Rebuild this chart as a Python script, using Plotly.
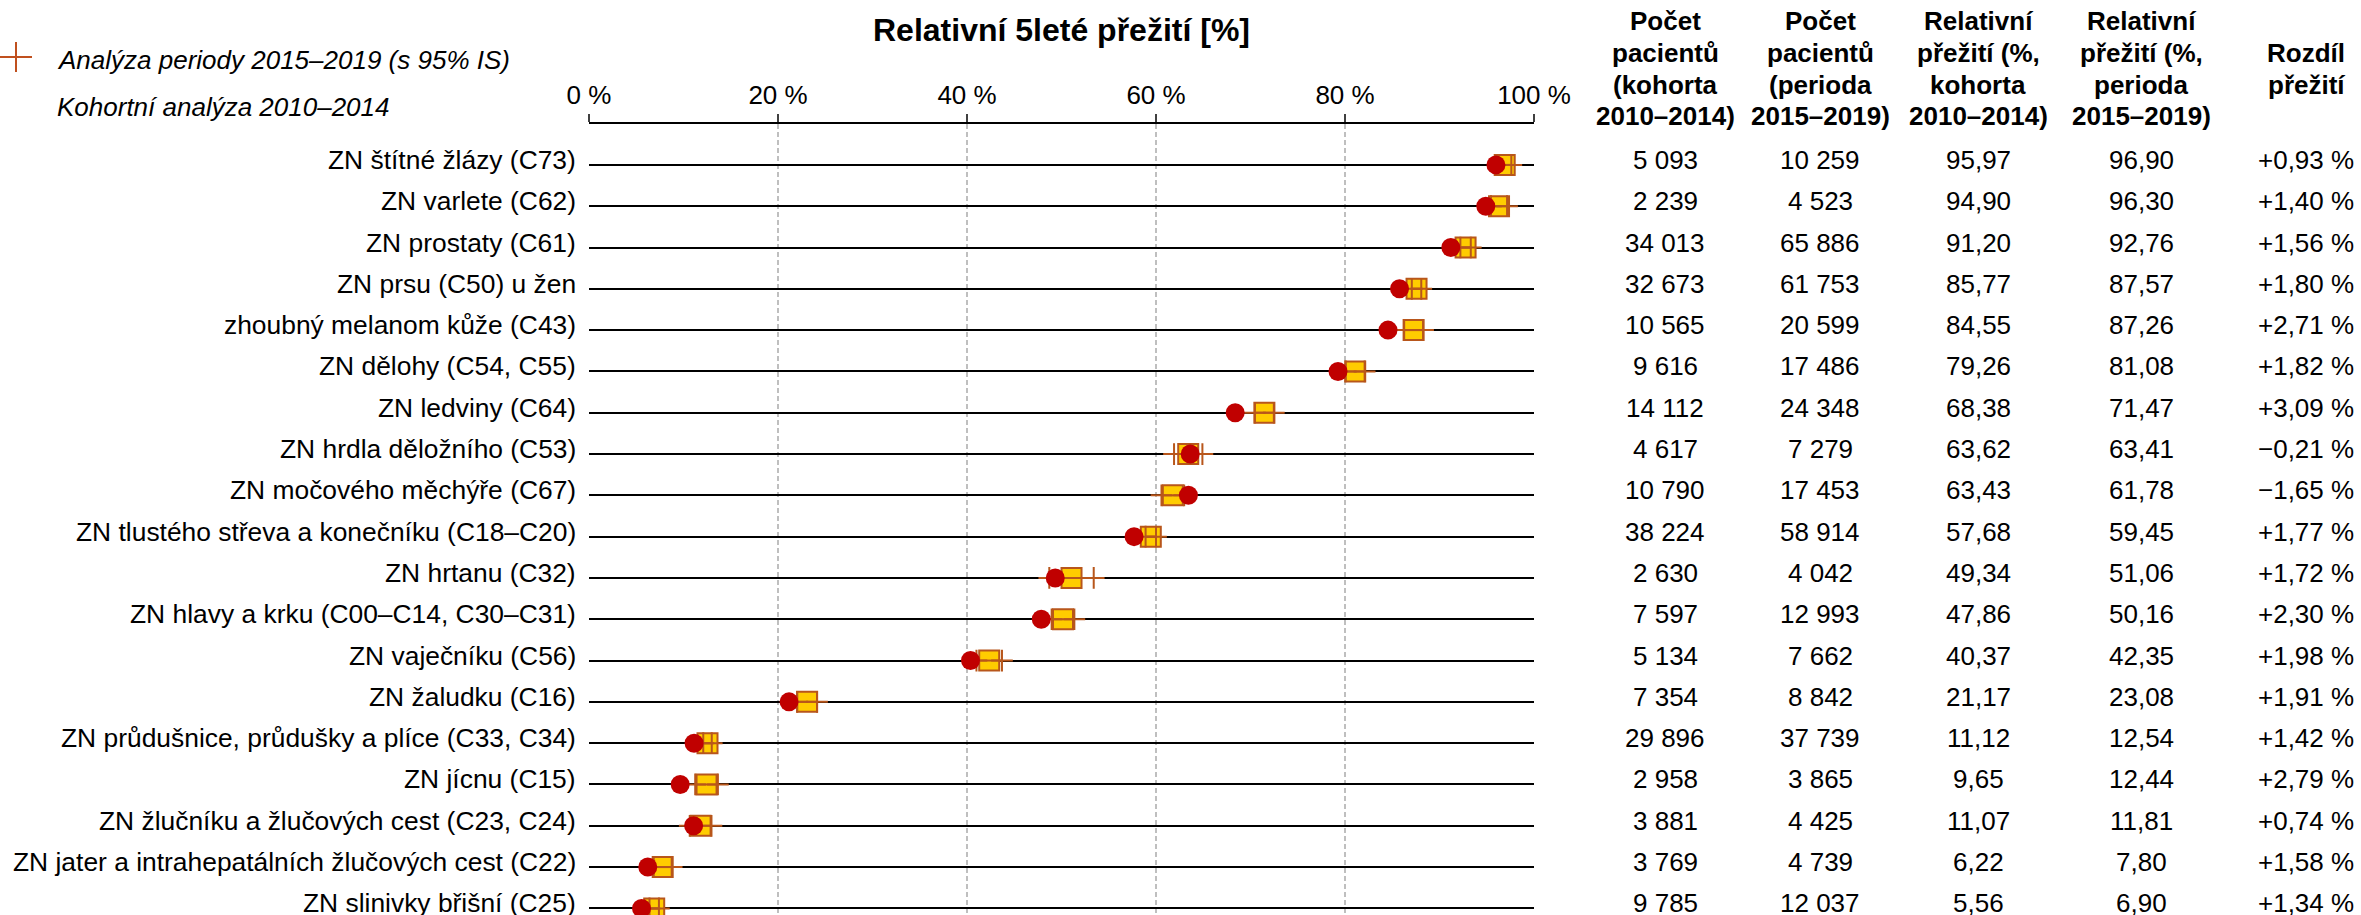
import plotly.graph_objects as go

# ---- data -------------------------------------------------------------
categories = [
    "ZN štítné žlázy (C73)",
    "ZN varlete (C62)",
    "ZN prostaty (C61)",
    "ZN prsu (C50) u žen",
    "zhoubný melanom kůže (C43)",
    "ZN dělohy (C54, C55)",
    "ZN ledviny (C64)",
    "ZN hrdla děložního (C53)",
    "ZN močového měchýře (C67)",
    "ZN tlustého střeva a konečníku (C18–C20)",
    "ZN hrtanu (C32)",
    "ZN hlavy a krku (C00–C14, C30–C31)",
    "ZN vaječníku (C56)",
    "ZN žaludku (C16)",
    "ZN průdušnice, průdušky a plíce (C33, C34)",
    "ZN jícnu (C15)",
    "ZN žlučníku a žlučových cest (C23, C24)",
    "ZN jater a intrahepatálních žlučových cest (C22)",
    "ZN slinivky břišní (C25)",
]
patients_cohort = [5093, 2239, 34013, 32673, 10565, 9616, 14112, 4617, 10790, 38224,
                   2630, 7597, 5134, 7354, 29896, 2958, 3881, 3769, 9785]
patients_period = [10259, 4523, 65886, 61753, 20599, 17486, 24348, 7279, 17453, 58914,
                   4042, 12993, 7662, 8842, 37739, 3865, 4425, 4739, 12037]
survival_cohort = [95.97, 94.90, 91.20, 85.77, 84.55, 79.26, 68.38, 63.62, 63.43, 57.68,
                   49.34, 47.86, 40.37, 21.17, 11.12, 9.65, 11.07, 6.22, 5.56]
survival_period = [96.90, 96.30, 92.76, 87.57, 87.26, 81.08, 71.47, 63.41, 61.78, 59.45,
                   51.06, 50.16, 42.35, 23.08, 12.54, 12.44, 11.81, 7.80, 6.90]
# 95% confidence interval of the period analysis
ci_low = [96.20, 95.45, 92.21, 87.07, 86.26, 80.08, 70.47, 61.91, 60.58, 58.90,
          48.71, 48.96, 41.00, 22.03, 12.09, 11.24, 10.66, 6.85, 6.40]
ci_high = [97.60, 97.15, 93.31, 88.07, 88.26, 82.08, 72.47, 64.91, 62.98, 60.00,
           53.41, 51.36, 43.70, 24.13, 12.99, 13.64, 12.96, 8.75, 7.40]
x_ticks = [0, 20, 40, 60, 80, 100]
x_tick_labels = ["0 %", "20 %", "40 %", "60 %", "80 %", "100 %"]

header_lines = [
    ["Počet", "pacientů", "(kohorta", "2010–2014)"],
    ["Počet", "pacientů", "(perioda", "2015–2019)"],
    ["Relativní", "přežití (%,", "kohorta", "2010–2014)"],
    ["Relativní", "přežití (%,", "perioda", "2015–2019)"],
    ["Rozdíl", "přežití"],
]

# ---- geometry ---------------------------------------------------------
W, H = 2361, 915
ML, MR, MT, MB = 589, 827, 124, 0
PW, PH = W - ML - MR, H - MT - MB
FONT = "Liberation Sans, Arial, sans-serif"
BROWN = "#B8561B"


def px_x(px):
    return (px - ML) / PW


def px_y(py):
    return (H - MB - py) / PH


def fmt_int(n):
    return f"{n:,}".replace(",", "\u00a0")


def fmt_dec(v):
    return f"{v:.2f}".replace(".", ",")


def fmt_diff(d):
    sign = "+" if d >= 0 else "\u2212"
    return f"{sign}{abs(d):.2f} %".replace(".", ",")


fig = go.Figure()

# period analysis point
fig.add_trace(go.Scatter(
    x=survival_period, y=categories, mode="markers",
    marker=dict(symbol="square", size=20, color="#FFCC00",
                line=dict(color=BROWN, width=2)),
    showlegend=False, hoverinfo="skip",
))

# 95% CI of the period analysis
ci_x, ci_y = [], []
for lo, hi, cat in zip(ci_low, ci_high, categories):
    ci_x += [lo, hi, None]
    ci_y += [cat, cat, None]
fig.add_trace(go.Scatter(
    x=ci_x, y=ci_y, mode="lines+markers",
    line=dict(color=BROWN, width=2),
    marker=dict(symbol="cross-thin", size=15.5, color=BROWN,
                line=dict(color=BROWN, width=2)),
    showlegend=False, hoverinfo="skip",
))

# cohort analysis point
fig.add_trace(go.Scatter(
    x=survival_cohort, y=categories, mode="markers",
    marker=dict(symbol="circle", size=19, color="#C00000", line=dict(width=0)),
    showlegend=False, hoverinfo="skip",
))

annotations = []

# row labels
for cat in categories:
    annotations.append(dict(
        x=0, xref="paper", y=cat, yref="y", text=cat, showarrow=False,
        xanchor="right", yanchor="middle", xshift=-11, yshift=5,
        font=dict(family=FONT, size=26.4, color="black"),
    ))

# table columns
col_x = [1665, 1820, 1978, 2141, 2306]
columns = [
    [fmt_int(n) for n in patients_cohort],
    [fmt_int(n) for n in patients_period],
    [fmt_dec(v) for v in survival_cohort],
    [fmt_dec(v) for v in survival_period],
    [fmt_diff(round(p - c, 2)) for p, c in zip(survival_period, survival_cohort)],
]
for cx, col in zip(col_x, columns):
    for cat, txt in zip(categories, col):
        annotations.append(dict(
            x=px_x(cx), xref="paper", y=cat, yref="y", text=txt, showarrow=False,
            xanchor="center", yanchor="middle", yshift=5,
            font=dict(family=FONT, size=26, color="black"),
        ))

# table header, one annotation per line
line_y4 = [21, 53, 85, 116]
line_y2 = [53, 85]
for cx, lines in zip(col_x, header_lines):
    ys = line_y4 if len(lines) == 4 else line_y2
    for ly, txt in zip(ys, lines):
        annotations.append(dict(
            x=px_x(cx), xref="paper", y=px_y(ly), yref="paper", text=f"<b>{txt}</b>",
            showarrow=False, xanchor="center", yanchor="middle",
            font=dict(family=FONT, size=26, color="black"),
        ))

# legend
annotations.append(dict(
    x=px_x(55), xref="paper", y=px_y(60), yref="paper",
    text="<i>Analýza periody 2015–2019 (s 95% IS)</i>", showarrow=False,
    xanchor="left", yanchor="middle", font=dict(family=FONT, size=26, color="black"),
))
annotations.append(dict(
    x=px_x(55), xref="paper", y=px_y(107), yref="paper",
    text="<i>Kohortní analýza 2010–2014</i>", showarrow=False,
    xanchor="left", yanchor="middle", font=dict(family=FONT, size=26, color="black"),
))

shapes = [
    dict(type="line", xref="paper", yref="paper",
         x0=px_x(0), x1=px_x(32), y0=px_y(57), y1=px_y(57),
         line=dict(color="#C0501E", width=2)),
    dict(type="line", xref="paper", yref="paper",
         x0=px_x(16), x1=px_x(16), y0=px_y(42), y1=px_y(72),
         line=dict(color="#C0501E", width=2)),
]

fig.update_layout(
    width=W, height=H,
    margin=dict(l=ML, r=MR, t=MT, b=MB, pad=0),
    paper_bgcolor="white", plot_bgcolor="white",
    font=dict(family=FONT, size=26, color="black"),
    title=dict(text="<b>Relativní 5leté přežití [%]</b>", x=1061.5 / W, xref="container",
               xanchor="center", y=1 - 30 / H, yref="container", yanchor="middle",
               font=dict(family=FONT, size=32, color="black")),
    xaxis=dict(range=[0, 100], side="top", tickvals=x_ticks, ticktext=x_tick_labels,
               showline=True, linecolor="black", linewidth=2,
               ticks="outside", ticklen=8, tickwidth=1.5, tickcolor="#404040",
               showgrid=True, gridcolor="#BFBFBF", gridwidth=2, griddash="5px,3px",
               zeroline=False, tickfont=dict(family=FONT, size=26, color="black"),
               fixedrange=True),
    yaxis=dict(type="category", categoryorder="array", categoryarray=categories,
               range=[18.16, -0.99], showgrid=True, gridcolor="black", gridwidth=2,
               showticklabels=False, zeroline=False, showline=False, ticks="",
               fixedrange=True),
    annotations=annotations, shapes=shapes,
    showlegend=False,
)

fig.write_html("out.html")
